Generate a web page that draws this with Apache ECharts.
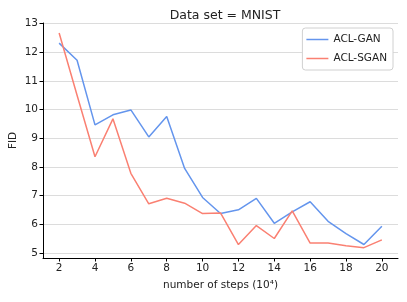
<!DOCTYPE html>
<html><head><meta charset="utf-8">
<script src="https://cdn.jsdelivr.net/npm/echarts@6/dist/echarts.min.js"></script>
<style>html,body{margin:0;padding:0;background:#fff}#c{width:407px;height:302px}</style>
</head><body><div id="c"></div>
<script>
const steps = [2,3,4,5,6,7,8,9,10,11,12,13,14,15,16,17,18,19,20];
const aclGan = [12.32,11.72,9.47,9.82,9.99,9.05,9.76,7.95,6.94,6.38,6.51,6.91,6.04,6.44,6.79,6.11,5.68,5.30,5.94];
const aclSgan = [12.67,10.50,8.36,9.68,7.78,6.72,6.91,6.74,6.38,6.40,5.30,5.96,5.51,6.47,5.35,5.35,5.26,5.19,5.46];
const xTicks = [2,4,6,8,10,12,14,16,18,20];
const yTicks = [5,6,7,8,9,10,11,12,13];
const font = 'DejaVu Sans';
const chart = echarts.init(document.getElementById('c'), null, {renderer:'canvas'});
const pair = (xs, ys) => xs.map((x,i)=>[x, ys[i]]);
chart.setOption({
  animation:false,
  backgroundColor:'#fff',
  title:{text:'Data set = MNIST', left:220, top:4, textAlign:'center',
    textStyle:{fontFamily:font, fontSize:12.5, fontWeight:'normal', color:'#222'}},
  grid:{left:43, right:9, top:23, bottom:44, containLabel:false, outerBoundsMode:'none'},
  legend:{right:14, top:28, orient:'vertical', icon:'rect', itemWidth:22, itemHeight:1.5, itemGap:8,
    backgroundColor:'#fff', borderColor:'#d0d0d0', borderWidth:1, borderRadius:3, padding:[6,6,6,4],
    textStyle:{fontFamily:font, fontSize:10.5, color:'#222'},
    data:['ACL-GAN','ACL-SGAN']},
  xAxis:{type:'value', min:1.1, max:20.9,
    name:'number of steps (10⁴)', nameLocation:'middle', nameGap:22, nameMoveOverlap:false,
    nameTextStyle:{fontFamily:font, fontSize:10.5, color:'#222'},
    axisLine:{show:true, lineStyle:{color:'#000', width:1}},
    axisTick:{show:true, length:3.5, inside:false, customValues:xTicks, lineStyle:{color:'#000'}},
    axisLabel:{customValues:xTicks, fontFamily:font, fontSize:10.5, color:'#222', margin:5},
    splitLine:{show:false}},
  yAxis:{type:'value', min:4.83, max:13.02,
    name:'FID', nameLocation:'middle', nameGap:24, nameMoveOverlap:false,
    nameTextStyle:{fontFamily:font, fontSize:10.5, color:'#222'},
    axisLine:{show:true, lineStyle:{color:'#000', width:1}},
    axisTick:{show:true, length:3.5, customValues:yTicks, lineStyle:{color:'#000'}},
    axisLabel:{customValues:yTicks, fontFamily:font, fontSize:10.5, color:'#222', margin:5},
    splitLine:{show:true, lineStyle:{color:'#dcdcdc', width:1}}},
  series:[
    {name:'ACL-GAN', type:'line', data:pair(steps, aclGan), symbol:'none',
      lineStyle:{color:'#6495ED', width:1.5}, itemStyle:{color:'#6495ED'}},
    {name:'ACL-SGAN', type:'line', data:pair(steps, aclSgan), symbol:'none',
      lineStyle:{color:'#FA8072', width:1.5}, itemStyle:{color:'#FA8072'}}
  ]
});
</script></body></html>
